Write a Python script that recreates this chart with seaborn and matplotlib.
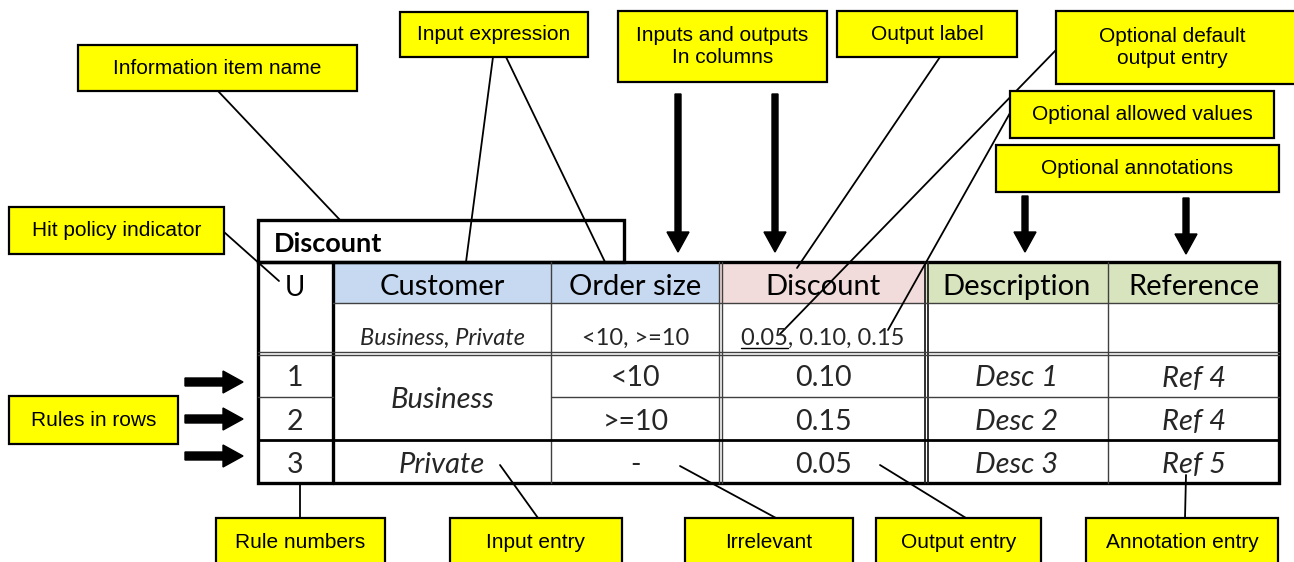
import matplotlib
matplotlib.use("Agg")
import matplotlib.pyplot as plt
import matplotlib.patches as mpatches
from matplotlib import font_manager
import seaborn as sns

# decision table content
table_name = "Discount"
hit_policy = "U"
headers = ["Customer", "Order size", "Discount", "Description", "Reference"]
allowed_values = ["Business, Private", "<10, >=10", "0.05, 0.10, 0.15", "", ""]
default_output = "0.05"
rule_ids = ["1", "2", "3"]
customer = ["Business", "Business", "Private"]
order_size = ["<10", ">=10", "-"]
discount = [0.10, 0.15, 0.05]
descriptions = ["Desc 1", "Desc 2", "Desc 3"]
references = ["Ref 4", "Ref 4", "Ref 5"]

# callout texts
callout_labels = [
    "Information item name", "Input expression", "Inputs and outputs\nIn columns",
    "Output label", "Optional default\noutput entry", "Optional allowed values",
    "Optional annotations", "Hit policy indicator", "Rules in rows",
    "Rule numbers", "Input entry", "Irrelevant", "Output entry", "Annotation entry",
]

sns.set_theme(style="white")
names = {f.name for f in font_manager.fontManager.ttflist}
narrow = "Liberation Sans Narrow" if "Liberation Sans Narrow" in names else "Liberation Sans"
plt.rcParams["font.family"] = ["Lato", "DejaVu Sans"]

W, H = 1294, 562
fig = plt.figure(figsize=(W / 100, H / 100), dpi=100)
ax = fig.add_axes([0, 0, 1, 1])
ax.set_xlim(0, W)
ax.set_ylim(H, 0)
ax.axis("off")

col_x = [258, 333, 551, 720, 926, 1108, 1279]
row_y = [262, 303, 353, 397, 440, 483]
head_colors = ["#C6D9F0", "#C6D9F0", "#F2DCDB", "#D7E4BD", "#D7E4BD"]

# header fills
for i, c in enumerate(head_colors):
    ax.add_patch(mpatches.Rectangle((col_x[i + 1], row_y[0]), col_x[i + 2] - col_x[i + 1],
                                    row_y[1] - row_y[0], facecolor=c, edgecolor="none"))

thin = dict(color="#404040", lw=1.0)
# vertical lines
ax.plot([333, 333], [262, 483], color="black", lw=2.4)
ax.plot([551, 551], [262, 483], **thin)
for x in (719, 722):
    ax.plot([x, x], [262, 483], **thin)
for x in (924.5, 927.5):
    ax.plot([x, x], [262, 483], color="#202020", lw=1.3)
ax.plot([1108, 1108], [262, 483], **thin)
# horizontal lines
ax.plot([333, 1279], [303, 303], **thin)
for y in (352, 355):
    ax.plot([258, 1279], [y, y], **thin)
ax.plot([258, 333], [397, 397], **thin)   # customer cell is merged for rules 1-2
ax.plot([551, 1279], [397, 397], **thin)
ax.plot([258, 1279], [440, 440], color="black", lw=2.0)
# outer frames
ax.add_patch(mpatches.Rectangle((258, 262), 1279 - 258, 483 - 262, fill=False, edgecolor="black", lw=2.4))
ax.add_patch(mpatches.Rectangle((258, 220), 624 - 258, 262 - 220, fill=False, edgecolor="black", lw=2.4))

# table text
ax.text(274, 244, table_name, fontsize=19.5, fontweight="bold", ha="left", va="center", color="black")
ax.text(295, 288, hit_policy, fontsize=20, ha="center", va="center", color="black")
centers = [(col_x[i + 1] + col_x[i + 2]) / 2 for i in range(5)]
for cx, h in zip(centers, headers):
    ax.text(cx, 287, h, fontsize=21, ha="center", va="center", color="black")

fs_av = 17
ax.text(centers[0], 338, allowed_values[0], fontsize=fs_av, style="italic", ha="center", va="center")
ax.text(centers[1], 338, allowed_values[1], fontsize=fs_av, ha="center", va="center")
t_allowed = ax.text(centers[2], 338, allowed_values[2], fontsize=fs_av, ha="center", va="center")
t_def = ax.text(0, 0, default_output, fontsize=fs_av, alpha=0)
fig.canvas.draw()
r = fig.canvas.get_renderer()
inv = ax.transData.inverted()
bb = t_allowed.get_window_extent(r)
bd = t_def.get_window_extent(r)
x0 = inv.transform((bb.x0, 0))[0]
x1 = inv.transform((bb.x0 + bd.width, 0))[0]
ax.plot([x0, x1], [348, 348], color="black", lw=1.0)

rule_cy = [(row_y[k + 2] + row_y[k + 3]) / 2 + 3.5 for k in range(3)]
fs_r, fs_i = 20.5, 21
for k in range(3):
    cy = rule_cy[k]
    ax.text(295, cy, rule_ids[k], fontsize=fs_r, ha="center", va="center")
    ax.text(centers[1], cy, order_size[k], fontsize=fs_r, ha="center", va="center")
    ax.text(centers[2], cy, f"{discount[k]:.2f}", fontsize=fs_r, ha="center", va="center")
    ax.text(centers[3], cy, descriptions[k], fontsize=fs_i, style="italic", ha="center", va="center")
    ax.text(centers[4], cy, references[k], fontsize=fs_i, style="italic", ha="center", va="center")
ax.text(centers[0], (row_y[2] + row_y[4]) / 2 + 4, customer[0], fontsize=fs_i, style="italic", ha="center", va="center")
ax.text(centers[0], rule_cy[2], customer[2], fontsize=fs_i, style="italic", ha="center", va="center")

# callout boxes
boxes = [
    (78, 45, 357, 91), (400, 12, 588, 57), (618, 11, 827, 82), (837, 11, 1017, 57),
    (1056, 11, 1300, 84), (1010, 91, 1274, 138), (996, 145, 1279, 192),
    (9, 207, 224, 254), (9, 396, 178, 444),
    (216, 518, 385, 568), (450, 518, 622, 568), (685, 518, 853, 568),
    (876, 518, 1041, 568), (1086, 518, 1278, 568),
]
for label, (bx0, by0, bx1, by1) in zip(callout_labels, boxes):
    ax.add_patch(mpatches.Rectangle((bx0, by0), bx1 - bx0, by1 - by0, facecolor="#FFFF00",
                                    edgecolor="black", lw=1.6, zorder=3))
    tx = (bx0 + min(bx1, W - 5)) / 2
    ax.text(tx, (by0 + by1) / 2, label, family=[narrow, "DejaVu Sans"], fontsize=15,
            ha="center", va="center", linespacing=1.25, zorder=4, color="black")

# leader lines
leaders = [
    ((218, 91), (340, 220)), ((493, 57), (466, 262)), ((506, 57), (605, 262)),
    ((940, 57), (797, 268)), ((1056, 50), (780, 334)), ((1010, 113), (888, 330)),
    ((224, 232), (279, 281)), ((300, 484), (300, 518)), ((500, 465), (538, 518)),
    ((680, 466), (776, 518)), ((880, 465), (966, 518)), ((1186, 475), (1185, 518)),
]
for (xa, ya), (xb, yb) in leaders:
    ax.plot([xa, xb], [ya, yb], color="black", lw=1.3, zorder=2)

# block arrows
def block_arrow(x, y, dx, dy, shaft=6, head=22, hl=20):
    ax.add_patch(mpatches.FancyArrow(x, y, dx, dy, width=shaft, head_width=head, head_length=hl,
                                     length_includes_head=True, color="black", zorder=2))

block_arrow(678, 94, 0, 158)
block_arrow(775, 94, 0, 158)
block_arrow(1025, 196, 0, 56)
block_arrow(1186, 198, 0, 56)
for y in (382, 419, 456):
    block_arrow(185, y, 58, 0, shaft=8, head=22, hl=20)

fig.savefig("out.png", dpi=100)
